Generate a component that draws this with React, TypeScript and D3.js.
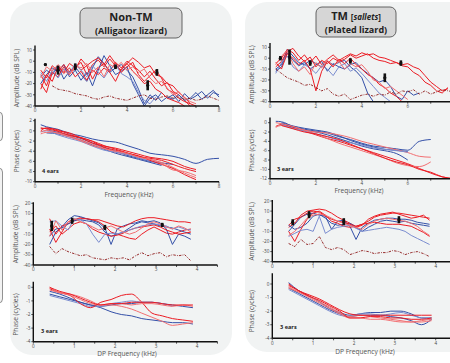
import * as d3 from 'd3';

// frequency grids (kHz)
const FA = [0.25,0.5,0.75,1,1.25,1.5,1.75,2,2.25,2.5,2.75,3,3.25,3.5,3.75,4,4.25,4.5,4.75,5,5.25,5.5,5.75,6,6.25,6.5,6.75,7,7.25,7.5,7.75,8];
const FP = [0.25,0.5,1,1.5,2,2.5,3,3.5,4,4.5,5,5.5,6,6.5,7,7.5,8];
const FDA = [0.4,0.55,0.7,0.85,1,1.15,1.3,1.45,1.6,1.75,1.9,2.05,2.2,2.35,2.5,2.65,2.8,2.95,3.1,3.25,3.4,3.55,3.7,3.85];
const FDP = [0.4,0.65,0.9,1.15,1.4,1.65,1.9,2.15,2.4,2.65,2.9,3.15,3.4,3.65,3.9];

const RED = '#ec1c24';
const RED_L = '#f36f72';
const BLUE = '#3450a8';
const BLUE_L = '#7b8dd0';
const NOISE = '#8b1515';

type V = (number | null)[];
type S = { v: V; c: string };
type M = { f: number; lo: number; hi: number };

// ---- Non-TM (alligator lizard) ----
const ampNonTM: S[] = [
  { v: [-12,-22,-8,-4,-10,-2,-6,-1,-12,-3,1,-5,2,-4,-8,-2,3,-1,-6,-4,-12,-14,-20,-22,-28,-32,-38], c: RED },
  { v: [-14,-8,-12,-4,-16,-9,-5,-12,-18,-6,4,-2,-10,-6,-3,-8,-14,-25,-38,-30,-35,-28,-33,-30,-36,-29,-34,-31,-27,-33,-28,-30], c: BLUE },
  { v: [-20,-28,-10,-14,-5,-12,-3,-8,-4,-16,-6,-2,-9,-1,-6,0,-4,-8,-14,-9,-16,-22,-19,-27,-30,-35,-40], c: RED },
  { v: [-20,-12,-6,-10,-3,-14,-8,-17,-10,-22,-8,5,-4,-12,-9,-5,-20,-30,-40,-33,-30,-36,-32,-34,-30,-35,-33,-28,-34,-30,-26,-32], c: BLUE },
  { v: [-8,-15,-4,-9,-3,-10,-7,2,-4,0,3,-3,5,-2,-10,-5,-1,-12,-18,-13,-8,-15,-25,-28,-33,-36,-38,-40], c: RED },
  { v: [-10,-18,-8,-15,-7,-11,-2,-8,-14,-4,-10,-15,-7,-3,-11,-14,-18,-28,-35,-38,-32], c: BLUE_L },
  { v: [-25,-12,-18,-5,-11,-6,-14,-9,-17,-8,-12,-6,-10,-18,-7,-2,-9,-14,-20,-18,-25,-28,-33,-35,-37,-40], c: RED },
  { v: [-15,-5,-9,-3,-8,-12,-4,-6,-2,-10,-5,-14,-3,-6,-1,-8,-5,-10,-7,-15,-20,-18,-24,-30,-27,-33,-36,-38], c: RED_L },
];
const ampNoiseNonTM: V = [null,null,-22,-25,-26,-27,-29,-30,-31,-33,-34,-32,-31,-33,-34,-35,-33,-31,-30,-33,-34,-32,-31,-33,-32,-34,-33,-35,-34,-31,-33,-35];
const ampMarksNonTM: M[] = [
  { f: 0.45, lo: -4, hi: -2 }, { f: 1.0, lo: -12, hi: -4 }, { f: 1.75, lo: -8, hi: -2 },
  { f: 3.5, lo: -7, hi: -3 }, { f: 4.9, lo: -26, hi: -17 }, { f: 5.3, lo: -13, hi: -7 },
];
const phaseNonTM: S[] = [
  { v: [1.2,0.8,0.3,-0.5,-1.0,-1.6,-2.0,-2.2,-2.9,-3.6,-4.4,-4.7,-5.0,-5.6,-6.4,-5.6,-5.4], c: BLUE },
  { v: [null,0.2,-0.3,-0.9,-1.5,-2.4,-3.3,-4.0,-4.8,-5.4,-6.0,-6.3,-6.6], c: BLUE },
  { v: [0.4,0.5,0.2,-0.7,-1.4,-2.0,-2.9,-3.6,-4.3,-5.0,-5.4,-5.8,-6.6,-7.4,-8.0], c: RED },
  { v: [null,-0.4,-0.6,-1.2,-1.8,-2.8,-3.6,-4.4,-5.0,-5.6,-6.2,-6.8], c: BLUE },
  { v: [-0.6,-0.3,-0.4,-1.0,-1.8,-2.6,-3.4,-4.2,-4.6,-5.1,-5.6,-6.2,-7.2,-8.3,-9.2], c: RED_L },
  { v: [-0.2,0,-0.8,-1.5,-2.1,-3.0,-3.8,-4.2,-4.6,-5.3,-5.9,-6.5], c: BLUE_L },
  { v: [0.6,0.4,-0.1,-0.9,-1.3,-2.1,-3.2,-3.8,-4.4,-4.9,-5.8,-6.6,-7.4,-8.6,-9.6], c: RED },
  { v: [-0.2,0.1,-0.5,-1.2,-2.0,-2.9,-3.5,-4.0,-4.4,-5.2,-5.6,-6.4,-7.7,-8.0,-8.8], c: RED_L },
  { v: [0.0,0.6,0.0,-0.4,-1.4,-2.4,-3.0,-3.4,-4.0,-4.6,-5.2,-5.5,-6.0,-7.0,-7.6], c: RED },
];
const dpAmpNonTM: S[] = [
  { v: [-5,-18,-8,2,4,6,5,4,2,-2,-8,-10,-12,-14,-15,-10,-6,-3,-6,-9,-10,-8,-6,-5], c: RED },
  { v: [-20,-8,-3,4,8,7,5,3,1,-4,-20,-5,-2,0,1,3,2,3,1,-5,-20,-10,-12,-15], c: BLUE },
  { v: [5,-10,-2,0,3,5,5,4,4,2,0,-2,-3,0,3,5,6,6,5,4,3,2,2,1], c: RED },
  { v: [-12,-5,-4,0,3,4,3,2,-1,-8,-12,-10,-8,-4,0,2,1,0,-2,-3,-4,-6,-8,-10], c: BLUE },
  { v: [-8,-2,-10,-5,0,2,0,-5,-8,-10,-12,-11,-9,-6,-4,-3,-2,-1,-3,-6,-8,-10,-9,-8], c: RED },
  { v: [2,3,-2,-6,5,4,0,-10,-18,-10,-9,-10,-8,-6,-4,-2,-1,0,-1,-2,-5,-3,-5,-6], c: BLUE_L },
  { v: [-12,3,-6,2,5,2,0,-3,-6,-4,-2,-5,-8,-10,-8,-4,0,2,0,-3,-5,-2,-4,-8], c: RED_L },
];
const dpNoiseNonTM: V = [-22,-29,-24,-27,-29,-31,-30,-33,-34,-35,-33,-34,-33,-35,-31,-28,-31,-29,-28,-32,-30,-31,-30,-36];
const dpMarksNonTM: M[] = [
  { f: 0.45, lo: -7, hi: 3 }, { f: 0.95, lo: 0, hi: 6 }, { f: 1.75, lo: -6, hi: -1 }, { f: 3.15, lo: -3, hi: 1 },
];
const dpPhaseNonTM: S[] = [
  { v: [-0.3,-0.5,-0.8,-1.1,-1.3,-1.4,-1.3,-1.2,-1.2,-1.1,-1.1,-1.2,-1.3,-1.4,-1.5], c: BLUE },
  { v: [-0.5,-0.7,-0.9,-1.1,-1.3,-1.5,-1.8,-2.0,-2.1,-2.3,-2.4,-2.5,-2.6,-2.6,-2.7], c: BLUE },
  { v: [-0.6,-0.8,-1.0,-1.2,-1.4,-1.4,-1.2,-1.1,-1.0,-1.1,-1.1,-1.2,-1.4], c: BLUE_L },
  { v: [-0.1,-0.4,-0.6,-1.2,-1.5,-1.1,-0.9,-0.6,-0.5,-1.1,-1.9,-2.1,-2.3,-2.4,-2.5], c: RED },
  { v: [-0.2,-0.4,-0.6,-0.9,-1.2,-1.3,-1.3,-1.4,-1.6,-1.9,-2.2,-2.5,-2.8,-2.7,-2.6], c: RED_L },
  { v: [0.0,-0.4,-0.5,-0.7,-1.0,-1.3,-1.2,-1.2,-1.3,-1.2,-1.2,-1.3,-1.4,-1.3,-1.4], c: RED_L },
  { v: [0,-0.3,-0.5,-0.8,-1.1,-1.3,-1.2,-1.2,-1.1,-1.1,-1.1,-1.2,-1.3,-1.3,-1.3], c: RED },
];

// ---- TM (plated lizard) ----
const ampTM: S[] = [
  { v: [-10,-6,8,2,-4,-6,-2,-5,-8,-3,-6,-4,-2,-8,-12,-18,-32,-40], c: BLUE },
  { v: [-5,0,8,5,-2,3,-4,2,-6,-1,3,-2,1,4,2,5,3,4,1,0,-2,-4,-6,-5,-8,-10,-16,-22,-26,-30,-28], c: RED },
  { v: [-12,-8,5,-2,-7,-4,-10,-6,-3,-12,-5,-8,-10,-6,-4,-10,-14,-18,-22,-20,-26,-35,-38,-30,-34,-32], c: BLUE },
  { v: [-8,-3,6,9,2,-3,1,-8,-2,-5,0,-3,-1,3,0,2,4,0,-2,-3,-5,-4,-7,-8,-13,-16,-22,-25,-30,-32,-27], c: RED },
  { v: [-14,-4,2,-8,-12,-6,-9,-14,-7,-10,-16,-8,-5,-12,-9,-14,-20,-26,-32,-36,-40], c: BLUE_L },
  { v: [-4,-10,4,0,-6,-2,-10,-30,-12,-3,-8,-1,-5,0,-6,-10,-15,-18,-24,-27,-32,-35,-40], c: RED },
  { v: [-6,2,7,-5,-12,-8,-15,-4,-9,-2,-7,-3,-10,-5,-8,-6,-12,-20,-22,-28,-26,-30,-34,-38], c: RED_L },
];
const ampNoiseTM: V = [-10,-14,-18,-20,-22,-25,-24,-27,-30,-28,-33,-35,-33,-38,-36,-34,-33,-35,-33,-34,-31,-33,-30,-31,-29,-33,-30,-33,-31,-29,-30,-31];
const ampMarksTM: M[] = [
  { f: 0.45, lo: -2, hi: 2 }, { f: 0.85, lo: -6, hi: 8 }, { f: 1.75, lo: -7, hi: -2 },
  { f: 3.5, lo: -5, hi: 0 }, { f: 5.0, lo: -22, hi: -14 }, { f: 5.7, lo: -7, hi: -2 },
];
const phaseTM: S[] = [
  { v: [0.3,0.2,-0.8,-1.4,-1.8,-2.2,-3.0,-3.6,-4.4,-5.0,-5.3,-5.6,-5.9,-4.0,-3.6], c: BLUE },
  { v: [null,-0.2,-1.0,-1.6,-2.0,-2.6,-3.4,-4.2,-5.0,-5.6,-6.0,-6.6,-8.0], c: BLUE },
  { v: [-0.8,-0.4,-1.0,-1.8,-2.6,-3.4,-4.0,-4.8,-5.6,-6.4,-7.2,-8.0,-8.8,-9.8,-10.8,-11.6,-12], c: RED },
  { v: [null,0.0,-0.7,-1.2,-1.6,-2.0,-2.8,-3.8,-4.6,-5.2,-5.7,-5.9,-6.2], c: BLUE },
  { v: [-1.0,-0.6,-1.2,-1.6,-2.0,-2.2,-2.6,-3.2,-4.0,-4.6,-5.2,-5.8,-6.4,-7.2,-7.4], c: RED_L },
  { v: [null,-0.3,-1.2,-1.8,-2.4,-3.0,-3.8,-4.3,-4.8,-5.4,-5.7,-6.0,-6.3], c: BLUE_L },
  { v: [0.0,-0.2,-0.8,-1.6,-2.4,-3.4,-4.4,-5.2,-6.0,-6.8,-7.6,-8.6,-9.2,-9.4,-8.4], c: RED_L },
  { v: [null,-0.6,-1.3,-2.0,-2.4,-3.0,-3.6,-4.6,-5.6,-6.6,-7.6,-8.4,-9.0,-10.0,-10.6,-11.6,-12.0], c: RED },
];
const dpAmpTM: S[] = [
  { v: [-10,-3,4,7,8,6,5,-8,0,1,-5,-18,-6,-2,1,2,3,3,2,2,1,-1,-2,-3], c: BLUE },
  { v: [-6,-2,6,10,11,12,11,8,4,1,-2,-5,-3,0,4,6,7,8,8,7,6,5,4,3], c: RED },
  { v: [-4,-8,-6,-2,5,7,3,-2,-4,-3,-2,-6,-10,-6,-3,0,1,0,-1,0,-2,-3,-4,-5], c: BLUE },
  { v: [-10,-20,-8,2,8,10,6,0,-2,-5,-6,-5,-3,-2,-1,-2,-3,-3,-3,-4,-5,-8,-11,-15], c: RED },
  { v: [-15,-12,-9,-8,-10,5,-12,-8,-6,-5,-4,-7,-10,-9,-8,-7,-6,-7,-8,-10,-14,-17,-20,-23], c: BLUE_L },
  { v: [-4,2,4,8,10,9,5,2,0,-1,-3,-6,-4,2,5,7,8,9,7,5,3,4,6,1], c: RED },
  { v: [-14,-10,-4,3,6,7,6,3,0,-2,-4,-6,-8,-3,0,2,3,2,1,0,-2,-5,-10,-14], c: RED_L },
];
const dpNoiseTM: V = [-22,-25,-18,-23,-22,-15,-26,-28,-26,-28,-33,-31,-29,-30,-32,-31,-31,-29,-30,-33,-31,-30,-32,-35];
const dpMarksTM: M[] = [
  { f: 0.5, lo: -4, hi: 2 }, { f: 0.9, lo: 3, hi: 10 }, { f: 1.75, lo: -4, hi: 3 }, { f: 3.1, lo: -2, hi: 5 },
];
const dpPhaseTM: S[] = [
  { v: [0.1,-0.5,-0.9,-1.3,-1.8,-2.1,-2.3,-2.2,-2.1,-2.1,-2.0,-2.0,-2.2,-2.5,-2.5], c: BLUE },
  { v: [-0.3,-0.7,-1.1,-1.5,-1.9,-2.2,-2.4,-2.3,-2.3,-2.3,-2.4,-2.5,-2.7,-3.0,-2.6], c: BLUE },
  { v: [-0.4,-0.8,-1.2,-1.6,-2.0,-2.3,-2.4,-2.2,-2.2,-2.3,-2.2,-2.1,-2.3,-2.5,-2.6], c: BLUE_L },
  { v: [-0.2,-0.6,-0.9,-1.3,-1.7,-2.1,-2.4,-2.3,-2.4,-2.5,-2.6,-2.7,-2.8,-2.8,-2.7], c: RED_L },
  { v: [-0.3,-0.6,-1.0,-1.4,-1.8,-2.2,-2.5,-2.5,-2.6,-2.6,-2.7,-2.8,-2.8,-2.7,-2.6], c: RED_L },
  { v: [-0.1,-0.5,-0.9,-1.2,-1.6,-2.0,-2.5,-2.5,-2.4,-2.4,-2.5,-2.5,-2.6,-2.6,-2.5], c: RED },
  { v: [0.0,-0.5,-0.8,-1.1,-1.5,-1.9,-2.2,-2.3,-2.3,-2.3,-2.3,-2.3,-2.3,-2.3,-2.3], c: RED },
];

const AMP_TICKS = [10, 0, -10, -20, -30, -40];
const DP_AMP_TICKS = [20, 10, 0, -10, -20, -30, -40];
const DP_PHASE_TICKS = [0, -1, -2, -3, -4];
const PHASE_TICKS_NONTM = [2, 0, -2, -4, -6, -8, -10];
const PHASE_TICKS_TM = [0, -2, -4, -6, -8, -10, -12];
const KHZ_TICKS = [0, 1, 2, 3, 4, 5, 6, 7, 8];
const DP_KHZ_TICKS = [0, 0.5, 1, 1.5, 2, 2.5, 3, 3.5, 4, 4.5];

const FONT = '"Open Sans", "Noto Sans", sans-serif';

interface PlotProps {
  xr: [number, number];
  xd: [number, number];
  xMax: number;
  yr: [number, number];
  yd: [number, number];
  yTop: number;
  xTicks: number[];
  labelEvery: number;
  yTicks: number[];
  freq: number[];
  lines: S[];
  smooth?: boolean;
  noise?: V;
  marks?: M[];
  yLabel: string;
  labelX: number;
  xLabel?: string;
  xLabelAt?: [number, number];
  ears?: string;
  earsAt?: [number, number];
}

function Plot(p: PlotProps) {
  const x = d3.scaleLinear().domain(p.xd).range(p.xr);
  const y = d3.scaleLinear().domain(p.yd).range(p.yr);
  const line = d3
    .line<[number, number | null]>()
    .defined((d) => d[1] != null)
    .x((d) => x(d[0]))
    .y((d) => y(d[1] as number))
    .curve(p.smooth ? d3.curveMonotoneX : d3.curveLinear);
  const pts = (v: V) => v.map((val, i) => [p.freq[i], val] as [number, number | null]);
  const x0 = x(0);
  const yb = y(p.yd[0]);
  const yc = (p.yr[0] + p.yr[1]) / 2;

  return (
    <g>
      {p.lines.map((s, i) => (
        <path key={i} d={line(pts(s.v)) || ''} fill="none" stroke={s.c} strokeWidth={1} strokeLinejoin="round" />
      ))}
      {p.noise && (
        <path d={line(pts(p.noise)) || ''} fill="none" stroke={NOISE} strokeWidth={0.9} strokeDasharray="2.5,1.2,0.8,1.2" />
      )}
      {p.marks &&
        p.marks.map((m, i) => (
          <g key={i}>
            <rect x={x(m.f) - 1.3} y={y(m.hi)} width={2.6} height={Math.max(2, y(m.lo) - y(m.hi))} fill="#111" />
            <circle cx={x(m.f)} cy={y((m.lo + m.hi) / 2)} r={1.6} fill="#111" />
          </g>
        ))}
      {/* axes */}
      <line x1={x0} x2={x0} y1={y(p.yTop)} y2={yb} stroke="#111" strokeWidth={1.4} />
      <line x1={x0} x2={x(p.xMax)} y1={yb} y2={yb} stroke="#111" strokeWidth={1.4} />
      {p.yTicks.map((t) => (
        <g key={t}>
          <line x1={x0 - 2} x2={x0} y1={y(t)} y2={y(t)} stroke="#111" strokeWidth={0.7} />
          <text x={x0 - 3} y={y(t) + 1.7} fontSize={4.6} textAnchor="end" fill="#444">{t}</text>
        </g>
      ))}
      {p.xTicks.map((t) => (
        <g key={t}>
          <line x1={x(t)} x2={x(t)} y1={yb} y2={yb + 2} stroke="#111" strokeWidth={0.7} />
          {Math.abs(t / p.labelEvery - Math.round(t / p.labelEvery)) < 1e-6 && x(t) < 446 && (
            <text x={x(t)} y={yb + 6.2} fontSize={4.6} textAnchor="middle" fill="#444">{t}</text>
          )}
        </g>
      ))}
      <text transform={`translate(${p.labelX},${yc}) rotate(-90)`} fontSize={6.6} textAnchor="middle" fill="#555">
        {p.yLabel}
      </text>
      {p.xLabel && p.xLabelAt && (
        <text x={p.xLabelAt[0]} y={p.xLabelAt[1]} fontSize={6.6} textAnchor="middle" fill="#555">{p.xLabel}</text>
      )}
      {p.ears && p.earsAt && (
        <text x={p.earsAt[0]} y={p.earsAt[1]} fontSize={5.6} fontWeight="bold" fill="#222">{p.ears}</text>
      )}
    </g>
  );
}

export default function App() {
  return (
    <svg width={450} height={363} style={{ position: 'absolute', left: 0, top: 0, fontFamily: FONT }}>
      <rect width={450} height={363} fill="#fff" />
      {/* cut-off boxes at the left edge */}
      <rect x={-12} y={112} width={14.5} height={29} rx={4} fill="#f2f2f2" stroke="#777" strokeWidth={0.8} />
      <rect x={-12} y={168} width={14.5} height={135} rx={4} fill="#f2f2f2" stroke="#777" strokeWidth={0.8} />

      {/* panels */}
      <rect x={10} y={2} width={222} height={353} rx={22} fill="#f1f3f3" />
      <rect x={245} y={2} width={230} height={350} rx={22} fill="#f1f3f3" />

      {/* titles */}
      <rect x={80} y={8} width={102} height={30} rx={6} fill="#d6d6d6" stroke="#555" strokeWidth={0.9} />
      <text x={131} y={21} fontSize={11} fontWeight="bold" textAnchor="middle" fill="#222">Non-TM</text>
      <text x={131} y={33.5} fontSize={9} fontWeight="bold" textAnchor="middle" fill="#222">(Alligator lizard)</text>
      <rect x={316} y={7} width={80} height={30} rx={6} fill="#d6d6d6" stroke="#555" strokeWidth={0.9} />
      <text x={356} y={20} fontSize={11} fontWeight="bold" textAnchor="middle" fill="#222">
        TM <tspan fontSize={8}>[<tspan fontStyle="italic">sallets</tspan>]</tspan>
      </text>
      <text x={356} y={32.5} fontSize={9} fontWeight="bold" textAnchor="middle" fill="#222">(Plated lizard)</text>

      {/* Non-TM */}
      <Plot xr={[35, 219]} xd={[0, 8]} xMax={8} yr={[106, 50]} yd={[-40, 10]} yTop={14} xTicks={KHZ_TICKS} labelEvery={2}
        yTicks={AMP_TICKS} freq={FA} lines={ampNonTM} noise={ampNoiseNonTM} marks={ampMarksNonTM}
        yLabel="Amplitude (dB SPL)" labelX={19} />
      <Plot xr={[35, 219]} xd={[0, 8]} xMax={8} yr={[181.7, 120.7]} yd={[-10, 2]} yTop={2.4} xTicks={KHZ_TICKS} labelEvery={2}
        yTicks={PHASE_TICKS_NONTM} freq={FP} lines={phaseNonTM} smooth
        yLabel="Phase (cycles)" labelX={19} xLabel="Frequency (kHz)" xLabelAt={[129, 197]} ears="4 ears" earsAt={[42, 173]} />
      <Plot xr={[33.3, 197]} xd={[0, 4]} xMax={4.5} yr={[265, 203.3]} yd={[-40, 20]} yTop={21} xTicks={DP_KHZ_TICKS} labelEvery={1}
        yTicks={DP_AMP_TICKS} freq={FDA} lines={dpAmpNonTM} noise={dpNoiseNonTM} marks={dpMarksNonTM}
        yLabel="Amplitude (dB SPL)" labelX={18} />
      <Plot xr={[33.3, 197]} xd={[0, 4]} xMax={4.5} yr={[341.7, 287.3]} yd={[-4, 0]} yTop={0.4} xTicks={DP_KHZ_TICKS} labelEvery={1}
        yTicks={DP_PHASE_TICKS} freq={FDP} lines={dpPhaseNonTM} smooth
        yLabel="Phase (cycles)" labelX={18} xLabel="DP Frequency (kHz)" xLabelAt={[127, 356]} ears="3 ears" earsAt={[41, 333]} />

      {/* TM */}
      <Plot xr={[270, 453.7]} xd={[0, 8]} xMax={8} yr={[101.7, 47.3]} yd={[-40, 10]} yTop={14} xTicks={KHZ_TICKS} labelEvery={2}
        yTicks={AMP_TICKS} freq={FA} lines={ampTM} noise={ampNoiseTM} marks={ampMarksTM}
        yLabel="Amplitude (dB SPL)" labelX={254} />
      <Plot xr={[270, 453.7]} xd={[0, 8]} xMax={8} yr={[178.7, 122.7]} yd={[-12, 0]} yTop={1.1} xTicks={KHZ_TICKS} labelEvery={2}
        yTicks={PHASE_TICKS_TM} freq={FP} lines={phaseTM} smooth
        yLabel="Phase (cycles)" labelX={254} xLabel="Frequency (kHz)" xLabelAt={[359, 193]} ears="3 ears" earsAt={[277, 171]} />
      <Plot xr={[272.3, 435.7]} xd={[0, 4]} xMax={4.5} yr={[261.7, 201]} yd={[-40, 20]} yTop={21} xTicks={DP_KHZ_TICKS} labelEvery={1}
        yTicks={DP_AMP_TICKS} freq={FDA} lines={dpAmpTM} noise={dpNoiseTM} marks={dpMarksTM}
        yLabel="Amplitude (dB SPL)" labelX={254} />
      <Plot xr={[272.3, 435.7]} xd={[0, 4]} xMax={4.5} yr={[338.3, 284]} yd={[-4, 0]} yTop={0.8} xTicks={DP_KHZ_TICKS} labelEvery={1}
        yTicks={DP_PHASE_TICKS} freq={FDP} lines={dpPhaseTM} smooth
        yLabel="Phase (cycles)" labelX={254} xLabel="DP Frequency (kHz)" xLabelAt={[365, 353.5]} ears="3 ears" earsAt={[280, 329]} />
    </svg>
  );
}
